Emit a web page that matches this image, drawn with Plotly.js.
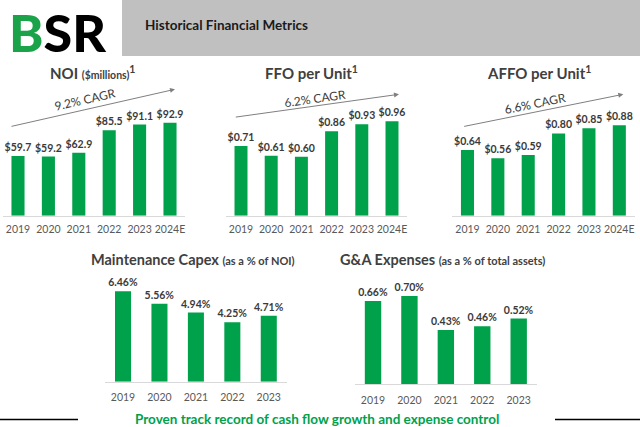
<!DOCTYPE html>
<html>
<head>
<meta charset="utf-8">
<script src="https://cdn.plot.ly/plotly-3.0.1.min.js"></script>
<style>html,body{margin:0;padding:0;background:#fff;}#chart{width:640px;height:427px;}</style>
</head>
<body>
<div id="chart"></div>
<script>
// ---- data ----
const yearsTop = ['2019', '2020', '2021', '2022', '2023', '2024E'];
const noiValues = [59.7, 59.2, 62.9, 85.5, 91.1, 92.9];
const ffoValues = [0.71, 0.61, 0.60, 0.86, 0.93, 0.96];
const affoValues = [0.64, 0.56, 0.59, 0.80, 0.85, 0.88];
const yearsBottom = ['2019', '2020', '2021', '2022', '2023'];
const capexValues = [6.46, 5.56, 4.94, 4.25, 4.71];
const gaValues = [0.66, 0.70, 0.43, 0.46, 0.52];
const cagrLabels = ['9.2% CAGR', '6.2% CAGR', '6.6% CAGR'];

// ---- helpers ----
const W = 640, H = 427;
const px = x => x / W;
const py = y => 1 - y / H;
const GREEN = '#00A14B';
const FONT = 'Lato, "Open Sans", sans-serif';

function barTrace(xs, ys, xa, ya, tmpl, width) {
  return {
    type: 'bar', x: xs, y: ys, xaxis: xa, yaxis: ya,
    marker: {color: GREEN}, width: width,
    texttemplate: tmpl, textposition: 'outside', constraintext: 'none',
    cliponaxis: false,
    textfont: {family: FONT, size: 10.5, color: '#3a3a3a', weight: 700},
    hoverinfo: 'skip', showlegend: false
  };
}

const data = [
  barTrace(yearsTop, noiValues, 'x', 'y', '$%{y:.1f}', 0.43),
  barTrace(yearsTop, ffoValues, 'x2', 'y2', '$%{y:.2f}', 0.43),
  barTrace(yearsTop, affoValues, 'x3', 'y3', '$%{y:.2f}', 0.43),
  barTrace(yearsBottom, capexValues, 'x4', 'y4', '%{y:.2f}%', 0.44),
  barTrace(yearsBottom, gaValues, 'x5', 'y5', '%{y:.2f}%', 0.45)
];

function xAx(l, r, standoff) {
  return {domain: [px(l), px(r)], type: 'category', showline: true, linecolor: '#d9d9d9', linewidth: 1,
    showgrid: false, zeroline: false, ticks: '', fixedrange: true, tickangle: 0, automargin: false,
    tickfont: {family: FONT, size: 10.5, color: '#595959'}, ticklabelstandoff: standoff};
}
function yAx(base, top, rng, anchor) {
  return {domain: [py(base), py(top)], range: rng, visible: false, showgrid: false, zeroline: false,
    fixedrange: true, anchor: anchor};
}

const layout = {
  width: W, height: H,
  margin: {l: 0, r: 0, t: 0, b: 0},
  paper_bgcolor: '#fff', plot_bgcolor: 'rgba(0,0,0,0)',
  bargap: 0.5,
  xaxis: Object.assign(xAx(2.8, 185.2, 4), {anchor: 'y'}),
  yaxis: yAx(215.7, 115.7, [0, 100], 'x'),
  xaxis2: Object.assign(xAx(225.9, 407.1, 4), {anchor: 'y2'}),
  yaxis2: yAx(215.7, 215.7 - 98.3, [0, 1], 'x2'),
  xaxis3: Object.assign(xAx(452.3, 634.5, 4), {anchor: 'y3'}),
  yaxis3: yAx(215.7, 215.7 - 102.8, [0, 1], 'x3'),
  xaxis4: Object.assign(xAx(104.8, 287, 6), {anchor: 'y4'}),
  yaxis4: yAx(381.7, 381.7 - 112, [0, 8], 'x4'),
  xaxis5: Object.assign(xAx(354.8, 536.9, 6), {anchor: 'y5'}),
  yaxis5: yAx(384, 384 - 100.6, [0, 0.8], 'x5'),
  shapes: [
    {type: 'rect', xref: 'paper', yref: 'paper', x0: px(122), x1: 1, y0: py(56), y1: 1,
      fillcolor: '#c0c0c0', line: {width: 0}, layer: 'below'},
    {type: 'line', xref: 'paper', yref: 'paper', x0: 0, x1: px(78), y0: py(419.5), y1: py(419.5),
      line: {color: '#000', width: 1.5}},
    {type: 'line', xref: 'paper', yref: 'paper', x0: px(555), x1: 1, y0: py(419.5), y1: py(419.5),
      line: {color: '#000', width: 1.5}}
  ],
  annotations: []
};

const A = layout.annotations;
function txt(x, y, text, size, color, opts) {
  A.push(Object.assign({xref: 'paper', yref: 'paper', x: px(x), y: py(y), text: text, showarrow: false,
    xanchor: 'center', yanchor: 'middle',
    font: {family: FONT, size: size, color: color}}, opts || {}));
}

// logo
txt(8, 0, '<span style="color:#1BA34A">B</span>SR', 52, '#000',
  {xanchor: 'left', yanchor: 'top', borderpad: 0,
   font: {family: 'Lato, sans-serif', size: 52, color: '#000', weight: 900}});
// header title
txt(143, 25, 'Historical Financial Metrics', 13.5, '#1a1a1a',
  {xanchor: 'left', font: {family: FONT, size: 13.5, color: '#1a1a1a', weight: 700}});

// chart titles
txt(92, 73, '<b>NOI <span style="font-size:10.5px">($millions)</span><sup>1</sup></b>', 15, '#404040');
txt(311, 73, '<b>FFO per Unit<sup>1</sup></b>', 15, '#404040');
txt(539, 73, '<b>AFFO per Unit<sup>1</sup></b>', 15, '#404040');
txt(193, 259, '<b>Maintenance Capex <span style="font-size:11px">(as a % of NOI)</span></b>', 14.5, '#404040');
txt(442, 259, '<b>G&amp;A Expenses <span style="font-size:11px">(as a % of total assets)</span></b>', 14.5, '#404040');

// CAGR arrows
function arrow(x0, y0, x1, y1) {
  A.push({xref: 'paper', yref: 'paper', x: px(x1), y: py(y1), ax: x0 - x1, ay: y0 - y1,
    axref: 'pixel', ayref: 'pixel', text: '', showarrow: true, arrowhead: 2, arrowsize: 1,
    arrowwidth: 1, arrowcolor: '#7f7f7f', standoff: 0, startstandoff: 0});
}
arrow(10, 126.7, 175, 89.3);
arrow(234.3, 117.3, 399, 94.3);
arrow(462.7, 126.7, 623.3, 94.3);
txt(85, 99.5, cagrLabels[0], 12, '#404040', {textangle: -12.8});
txt(315, 98.5, cagrLabels[1], 12, '#404040', {textangle: -8});
txt(535, 103, cagrLabels[2], 12, '#404040', {textangle: -11.4});

// footer
txt(316.5, 418.5, '<b>Proven track record of cash flow growth and expense control</b>', 13.5, GREEN);

Plotly.newPlot('chart', data, layout, {displayModeBar: false, staticPlot: true});
</script>
</body>
</html>
